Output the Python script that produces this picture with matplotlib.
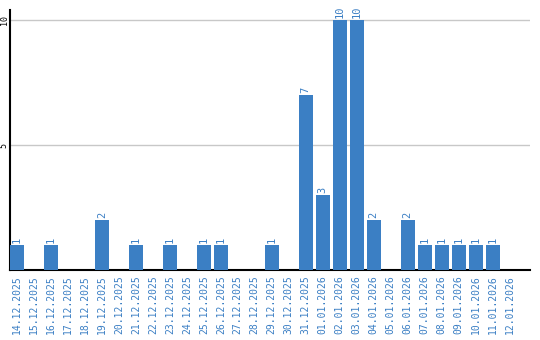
import matplotlib
matplotlib.use("Agg")
import matplotlib.pyplot as plt

dates = [
    "14.12.2025", "15.12.2025", "16.12.2025", "17.12.2025", "18.12.2025",
    "19.12.2025", "20.12.2025", "21.12.2025", "22.12.2025", "23.12.2025",
    "24.12.2025", "25.12.2025", "26.12.2025", "27.12.2025", "28.12.2025",
    "29.12.2025", "30.12.2025", "31.12.2025", "01.01.2026", "02.01.2026",
    "03.01.2026", "04.01.2026", "05.01.2026", "06.01.2026", "07.01.2026",
    "08.01.2026", "09.01.2026", "10.01.2026", "11.01.2026", "12.01.2026",
]
counts = [1, 0, 1, 0, 0, 2, 0, 1, 0, 1,
          0, 1, 1, 0, 0, 1, 0, 7, 3, 10,
          10, 2, 0, 2, 1, 1, 1, 1, 1, 0]
y_ticks = [5, 10]

BLUE = "#3b7fc4"
MONO = "DejaVu Sans Mono"

fig = plt.figure(figsize=(5.4, 3.4), dpi=100)
ax = fig.add_axes([10 / 540, 70 / 340, 520 / 540, 260 / 340])

x = list(range(len(dates)))
ax.bar(x, counts, width=0.82, color=BLUE, zorder=3)

# value labels above non-empty bars
for xi, v in zip(x, counts):
    if v > 0:
        ax.text(xi, v + 0.08, str(v), rotation=90, ha="center", va="bottom",
                color=BLUE, fontsize=7.5, family=MONO)

ax.set_xlim(-0.41, 30.2)
ax.set_ylim(0, 10.4)

ax.set_yticks(y_ticks)
ax.set_yticklabels([str(t) for t in y_ticks], rotation=90, va="center",
                   fontsize=6, family=MONO)
ax.yaxis.grid(True, color="#c8c8c8", linewidth=1, zorder=0)
ax.tick_params(axis="y", length=0, pad=1)

ax.set_xticks(x)
ax.set_xticklabels(dates, rotation=90, color=BLUE, fontsize=7, family=MONO)
ax.tick_params(axis="x", length=0, pad=4)

for side in ["top", "right"]:
    ax.spines[side].set_visible(False)
ax.spines["left"].set_color("black")
ax.spines["bottom"].set_color("black")
ax.spines["left"].set_linewidth(1.5)
ax.spines["bottom"].set_linewidth(1.5)

fig.savefig("out.png", dpi=100)
